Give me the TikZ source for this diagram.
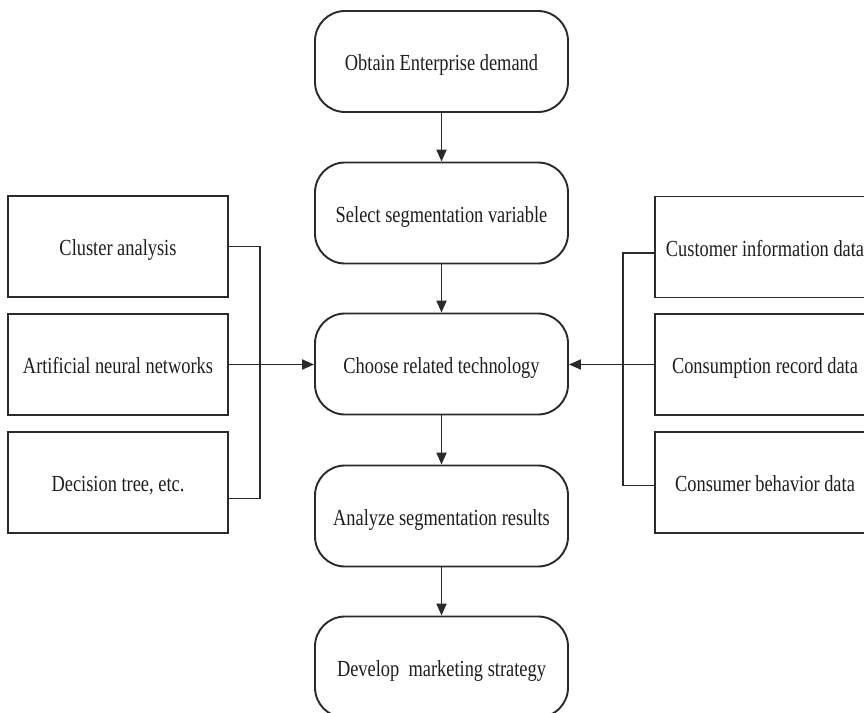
\documentclass[tikz,border=0pt]{standalone}
\usepackage{fontspec}
\setmainfont{Liberation Serif}[FakeStretch=0.8]
\usetikzlibrary{arrows.meta}
\definecolor{ln}{HTML}{2A2A2A}
\definecolor{tx}{HTML}{1E1E1E}
\begin{document}
\begin{tikzpicture}[x=1pt,y=-1pt,
  every node/.style={font=\fontsize{23}{26}\selectfont, text=tx, text height=18pt, text depth=0pt},
  rbox/.style={draw=ln, line width=1.9pt, rounded corners=30pt, minimum width=253pt, minimum height=101pt, inner sep=0pt},
  sbox/.style={draw=ln, line width=1.9pt, minimum width=220pt, minimum height=101pt, inner sep=0pt},
  conn/.style={draw=ln, line width=1.9pt},
  arr/.style={conn, -{Triangle[length=12pt,width=10pt]}}
]
\useasboundingbox (0,0) rectangle (864,712);
\node[rbox] (b1) at (441.5,61.5) {Obtain Enterprise demand};
\node[rbox] (b2) at (441.5,213) {Select segmentation variable};
\node[rbox] (b3) at (441.5,364) {Choose related technology};
\node[rbox] (b4) at (441.5,516) {Analyze segmentation results};
\node[rbox] (b5) at (441.5,667) {Develop\ \ marketing strategy};

\node[sbox] (l1) at (118,246.5) {Cluster analysis};
\node[sbox] (l2) at (118,364.5) {Artificial neural networks};
\node[sbox] (l3) at (118,482.5) {Decision tree, etc.};

\node[sbox] (r1) at (765,247) {Customer information data};
\node[sbox] (r2) at (765,364.5) {Consumption record data};
\node[sbox] (r3) at (765,482.5) {Consumer behavior data};

\draw[arr] (b1) -- (b2);
\draw[arr] (b2) -- (b3);
\draw[arr] (b3) -- (b4);
\draw[arr] (b4) -- (b5);

\coordinate (lx) at (260,0);
\coordinate (l3c) at ([yshift=-16pt]l3.east);
\draw[conn] (l1.east) -- (l1.east -| lx) -- (lx |- l3c) -- (l3c);
\draw[arr] (l2.east) -- (b3.west |- l2.east);

\coordinate (rx) at (623,0);
\coordinate (r1c) at ([yshift=-6pt]r1.west);
\coordinate (r3c) at ([yshift=-3pt]r3.west);
\draw[conn] (r1c) -- (r1c -| rx) -- (rx |- r3c) -- (r3c);
\draw[arr] (r2.west) -- (b3.east |- r2.west);
\end{tikzpicture}
\end{document}
